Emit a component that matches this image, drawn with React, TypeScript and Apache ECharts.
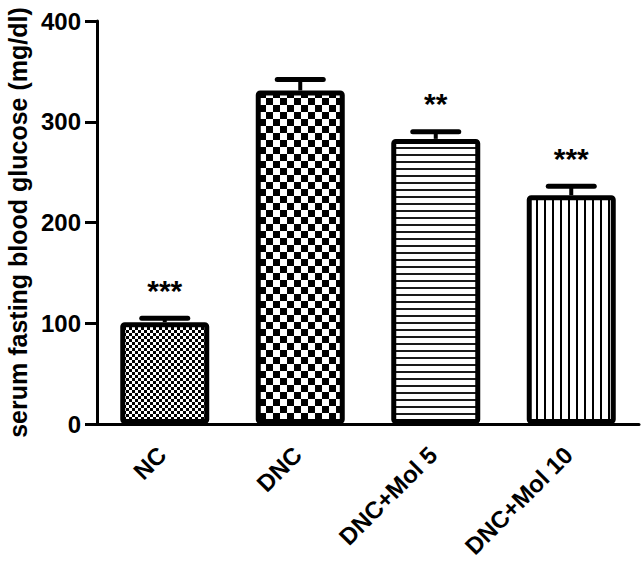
import React, { useEffect, useRef } from "react";
import * as echarts from "echarts";

const categories = ["NC", "DNC", "DNC+Mol 5", "DNC+Mol 10"];
const meanValues = [101, 331, 283, 227];
const errorValues = [4, 11, 7, 9];
const significance = ["***", "", "**", "***"];
const yTicks = { min: 0, max: 400, interval: 100 };

const FONT = '"Liberation Sans", Arial, sans-serif';

function makePattern(w: number, h: number, draw: (ctx: CanvasRenderingContext2D) => void) {
  const c = document.createElement("canvas");
  c.width = w;
  c.height = h;
  const ctx = c.getContext("2d") as CanvasRenderingContext2D;
  ctx.fillStyle = "#ffffff";
  ctx.fillRect(0, 0, w, h);
  ctx.fillStyle = "#000000";
  draw(ctx);
  return { image: c, repeat: "repeat" as const };
}

export default function App() {
  const ref = useRef<HTMLDivElement>(null);

  useEffect(() => {
    if (!ref.current) return;
    const chart = echarts.init(ref.current, null, { renderer: "svg" });

    const smallChecker = makePattern(6, 6, (ctx) => {
      ctx.fillRect(0, 0, 3, 3);
      ctx.fillRect(3, 3, 3, 3);
    });
    const bigChecker = makePattern(14, 14, (ctx) => {
      ctx.fillRect(0, 0, 7, 7);
      ctx.fillRect(7, 7, 7, 7);
    });
    const hLines = makePattern(8, 7, (ctx) => {
      ctx.fillStyle = "#1a1a1a";
      ctx.fillRect(0, 0, 8, 2);
    });
    const vLines = makePattern(8, 8, (ctx) => {
      ctx.fillRect(0, 0, 2, 8);
    });
    const fills = [smallChecker, bigChecker, hLines, vLines];

    const option: any = {
      animation: false,
      backgroundColor: "#ffffff",
      grid: { left: 97, right: 4, top: 21, bottom: 137, containLabel: false, outerBoundsMode: "none" },
      xAxis: {
        type: "category",
        data: categories,
        axisLine: { lineStyle: { color: "#000", width: 3 } },
        axisTick: { alignWithLabel: true, length: 11, lineStyle: { color: "#000", width: 3 } },
        axisLabel: {
          rotate: 45,
          margin: 24,
          color: "#000",
          fontFamily: FONT,
          fontWeight: "bold",
          fontSize: 24,
          interval: 0,
          padding: [0, 4, 0, 0],
        },
      },
      yAxis: {
        type: "value",
        min: yTicks.min,
        max: yTicks.max,
        interval: yTicks.interval,
        name: "serum fasting blood glucose (mg/dl)",
        nameLocation: "middle",
        nameRotate: 90,
        nameGap: 66,
        nameTextStyle: { color: "#000", fontFamily: FONT, fontWeight: "bold", fontSize: 25 },
        axisLine: { show: true, lineStyle: { color: "#000", width: 3 } },
        axisTick: { show: true, length: 12, lineStyle: { color: "#000", width: 3 } },
        axisLabel: { margin: 16, color: "#000", fontFamily: FONT, fontWeight: "bold", fontSize: 24 },
        splitLine: { show: false },
      },
      series: [
        {
          type: "bar",
          barWidth: 89,
          data: meanValues.map((v, i) => ({
            value: v,
            itemStyle: { color: fills[i], borderColor: "#000", borderWidth: 5, borderRadius: 2 },
          })),
          z: 2,
        },
        {
          type: "custom",
          z: 3,
          data: meanValues.map((v, i) => [i, v, errorValues[i]]),
          renderItem: (params: any, api: any) => {
            const idx = api.value(0);
            const v = api.value(1);
            const e = api.value(2);
            const base = api.coord([idx, v]);
            const top = api.coord([idx, v + e]);
            const children: any[] = [
              {
                type: "line",
                shape: { x1: top[0], y1: base[1], x2: top[0], y2: top[1] },
                style: { stroke: "#000", lineWidth: 4 },
              },
              {
                type: "line",
                shape: { x1: top[0] - 23, y1: top[1], x2: top[0] + 23, y2: top[1] },
                style: { stroke: "#000", lineWidth: 5, lineCap: "round" },
              },
            ];
            const s = significance[params.dataIndex];
            if (s) {
              children.push({
                type: "text",
                x: top[0],
                y: top[1] - 28,
                style: {
                  text: s,
                  fill: "#000",
                  font: `bold 30px ${FONT}`,
                  textAlign: "center",
                  textVerticalAlign: "middle",
                },
              });
            }
            return { type: "group", children };
          },
        },
      ],
    };

    chart.setOption(option);
    return () => chart.dispose();
  }, []);

  return <div ref={ref} style={{ width: 643, height: 561, position: "absolute", left: 0, top: 0 }} />;
}
